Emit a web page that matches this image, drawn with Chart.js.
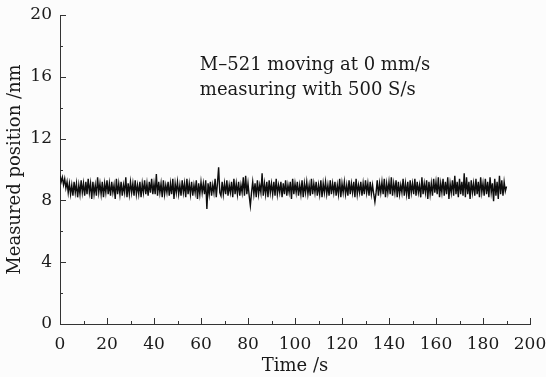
<!DOCTYPE html>
<html>
<head>
<meta charset="utf-8">
<script src="https://cdn.jsdelivr.net/npm/chart.js@4"></script>
<style>
  html, body { margin: 0; padding: 0; background: #fcfcfc; }
  #wrap { width: 546px; height: 377px; }
</style>
</head>
<body>
<div id="wrap"><canvas id="posChart"></canvas></div>
<script>
// time axis: one reading every 0.5 s, starting at 0 s
const sampleStep = 0.5;
// measured position in nm (10 s per row)
const position = [
    9.6, 9.2, 9.5, 9.0, 9.4, 8.8, 9.2, 8.5, 9.1, 8.4, 9.0, 8.3, 9.2, 8.5, 9.1, 8.2, 9.0, 8.4, 9.3, 8.5,
    9.1, 8.3, 9.2, 8.4, 9.4, 8.5, 9.1, 8.1, 9.2, 8.4, 9.0, 8.3, 9.5, 8.5, 9.1, 8.4, 9.2, 8.2, 9.1, 8.5,
    9.3, 8.4, 9.1, 8.3, 9.2, 8.5, 9.0, 8.1, 9.4, 8.4, 9.1, 8.4, 9.2, 8.3, 9.0, 8.5, 9.5, 8.2, 9.1, 8.4,
    9.2, 8.5, 9.1, 8.3, 9.3, 8.4, 9.0, 8.4, 9.2, 8.2, 9.1, 8.5, 9.3, 8.4, 9.1, 8.3, 9.2, 8.5, 9.4, 8.4,
    9.1, 8.4, 9.7, 8.3, 9.2, 8.5, 9.1, 8.2, 9.3, 8.4, 9.0, 8.5, 9.2, 8.3, 9.1, 8.4, 9.4, 8.1, 9.1, 8.5,
    9.2, 8.4, 9.0, 8.3, 9.3, 8.5, 9.1, 8.2, 9.4, 8.4, 9.1, 8.4, 9.2, 8.3, 9.0, 8.5, 9.3, 8.1, 9.1, 8.4,
    9.2, 8.5, 9.1, 8.4, 9.3, 7.45, 9.1, 8.4, 9.2, 8.3, 9.0, 8.5, 9.4, 8.2, 9.1, 10.15, 8.5, 8.3, 9.2, 8.4,
    9.1, 8.4, 9.3, 8.3, 9.0, 8.5, 9.2, 8.2, 9.4, 8.4, 9.1, 8.4, 9.2, 8.3, 9.0, 8.5, 9.5, 8.3, 9.6, 8.4,
    9.1, 8.3, 7.65, 8.5, 9.2, 8.4, 9.1, 8.2, 9.3, 8.4, 9.0, 8.5, 9.75, 8.3, 9.1, 8.4, 9.2, 8.2, 9.3, 8.5,
    9.1, 8.4, 9.2, 8.3, 9.4, 8.4, 9.0, 8.5, 9.2, 8.2, 9.1, 8.4, 9.3, 8.3, 9.0, 8.5, 9.2, 8.1, 9.4, 8.4,
    9.1, 8.5, 9.2, 8.3, 9.0, 8.4, 9.3, 8.2, 9.1, 8.5, 9.2, 8.4, 9.0, 8.3, 9.4, 8.4, 9.1, 8.5, 9.2, 8.3,
    9.0, 8.4, 9.3, 8.2, 9.1, 8.5, 9.2, 8.4, 9.0, 8.3, 9.3, 8.4, 9.1, 8.5, 9.2, 8.3, 9.0, 8.4, 9.4, 8.2,
    9.1, 8.5, 9.2, 8.4, 9.0, 8.3, 9.3, 8.4, 9.1, 8.5, 9.2, 8.2, 9.4, 8.4, 9.0, 8.5, 9.2, 8.3, 9.1, 8.4,
    9.3, 8.5, 9.1, 8.3, 9.2, 8.4, 9.0, 8.4, 7.9, 8.5, 9.3, 8.3, 9.1, 8.5, 9.2, 8.4, 9.4, 8.2, 9.1, 8.5,
    9.2, 8.4, 9.5, 8.3, 9.1, 8.5, 9.3, 8.2, 9.2, 8.4, 9.0, 8.5, 9.4, 8.3, 9.1, 8.4, 9.2, 8.1, 9.3, 8.5,
    9.1, 8.4, 9.4, 8.3, 9.2, 8.5, 9.0, 8.2, 9.5, 8.4, 9.1, 8.5, 9.3, 8.1, 9.2, 8.4, 9.1, 8.3, 9.4, 8.5,
    9.2, 8.4, 9.5, 8.2, 9.1, 8.5, 9.4, 8.3, 9.2, 8.4, 9.5, 8.1, 9.1, 8.5, 9.3, 8.3, 9.6, 8.4, 9.2, 8.2,
    9.4, 8.4, 9.2, 8.3, 9.75, 8.2, 9.5, 8.4, 9.2, 8.1, 9.3, 8.5, 9.1, 8.3, 9.4, 8.4, 9.2, 8.2, 9.5, 8.5,
    9.1, 8.3, 9.4, 8.4, 9.2, 8.2, 9.5, 8.5, 9.1, 7.95, 9.4, 8.3, 9.2, 8.1, 9.6, 8.4, 9.3, 8.3, 9.2, 8.6,
    8.9
];
const xTicks = [0, 20, 40, 60, 80, 100, 120, 140, 160, 180, 200];
const yTicks = [0, 4, 8, 12, 16, 20];
const noteLines = ["M\u2013521 moving at 0 mm/s", "measuring with 500 S/s"];

const points = position.map((v, i) => ({ x: i * sampleStep, y: v }));

const FONT = "'DejaVu Serif', serif";
const INK = '#1a1a1a';

// inward major + minor ticks and the note text
const axisDecor = {
    id: 'axisDecor',
    afterDraw(chart) {
        const ctx = chart.ctx;
        const xs = chart.scales.x, ys = chart.scales.y;
        const area = chart.chartArea;
        ctx.save();
        ctx.strokeStyle = '#333';
        ctx.lineWidth = 1;
        ctx.beginPath();
        for (let v = 0; v <= 200; v += 10) {
            const px = Math.round(xs.getPixelForValue(v)) + 0.5;
            const len = v % 20 === 0 ? 6 : 3;
            ctx.moveTo(px, area.bottom);
            ctx.lineTo(px, area.bottom - len);
        }
        for (let v = 0; v <= 20; v += 2) {
            const py = Math.round(ys.getPixelForValue(v)) + 0.5;
            const len = v % 4 === 0 ? 6 : 3;
            ctx.moveTo(area.left, py);
            ctx.lineTo(area.left + len, py);
        }
        ctx.stroke();

        ctx.fillStyle = INK;
        ctx.font = "18px " + FONT;
        ctx.textBaseline = 'alphabetic';
        const nx = xs.getPixelForValue(59.5);
        ctx.fillText(noteLines[0], nx, 70);
        ctx.fillText(noteLines[1], nx, 95);
        ctx.restore();
    }
};

new Chart(document.getElementById('posChart'), {
    type: 'line',
    data: {
        datasets: [{
            label: 'Measured position',
            data: points,
            borderColor: '#0d0d0d',
            borderWidth: 1.4,
            pointRadius: 0,
            tension: 0,
        }],
    },
    options: {
        responsive: true,
        maintainAspectRatio: false,
        animation: false,
        layout: { padding: { top: 15, right: 16, left: 0, bottom: 0 } },
        plugins: {
            legend: { display: false },
            tooltip: { enabled: false },
        },
        scales: {
            x: {
                type: 'linear',
                min: 0,
                max: 200,
                afterBuildTicks: (s) => { s.ticks = xTicks.map(v => ({ value: v })); },
                afterFit: (s) => { s.height = 53; s.paddingLeft = 0; s.paddingRight = 0; },
                grid: { display: false, drawTicks: false },
                border: { display: true, color: '#333', width: 1 },
                ticks: {
                    color: INK,
                    font: { family: FONT, size: 17 },
                    padding: 10,
                    maxRotation: 0,
                    autoSkip: false,
                },
                title: {
                    display: true,
                    text: 'Time /s',
                    color: INK,
                    font: { family: FONT, size: 18 },
                    padding: { top: 0, bottom: 0 },
                }
            },
            y: {
                min: 0,
                max: 20,
                afterBuildTicks: (s) => { s.ticks = yTicks.map(v => ({ value: v })); },
                afterFit: (s) => { s.width = 60; s.paddingTop = 0; s.paddingBottom = 0; },
                grid: { display: false, drawTicks: false },
                border: { display: true, color: '#333', width: 1 },
                ticks: {
                    color: INK,
                    font: { family: FONT, size: 17 },
                    padding: 8,
                    autoSkip: false,
                },
                title: {
                    display: true,
                    text: 'Measured position /nm',
                    color: INK,
                    font: { family: FONT, size: 18 },
                    padding: { top: 5, bottom: 0 },
                }
            }
        }
    },
    plugins: [axisDecor]
});
</script>
</body>
</html>
